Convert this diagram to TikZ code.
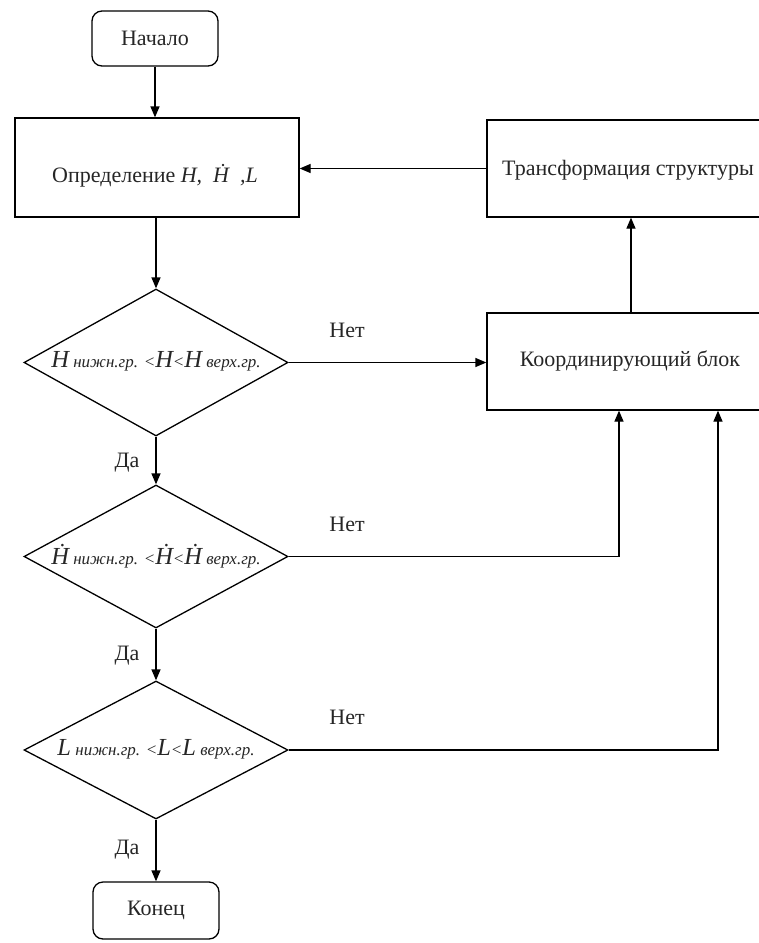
\documentclass[tikz,border=0pt]{standalone}
\usepackage{fontspec}
\setmainfont{Liberation Serif}
\usetikzlibrary{arrows.meta,shapes.geometric}
\newcommand{\bigI}[1]{{\fontsize{24.5}{26}\selectfont\itshape #1}}
\newcommand{\smI}[1]{{\fontsize{17}{19}\selectfont\itshape #1}}
\begin{document}
\begin{tikzpicture}[x=1pt,y=-1pt,
  line width=1.3pt,
  txt/.style={font=\fontsize{22}{26}\selectfont, text=black!85, inner sep=0pt},
  termbox/.style={draw, rounded corners=10pt, inner sep=0pt},
  procbox/.style={draw, inner sep=0pt},
  decbox/.style={draw, diamond, inner sep=0pt},
  arr/.style={-{Triangle[length=11pt,width=9pt]}}]
\useasboundingbox (0,0) rectangle (759,943);
% nodes
\node[termbox, minimum width=126pt, minimum height=55pt] (start) at (155,38.5) {};
\node[txt] (startt) at (start.center) {Начало};
\node[procbox, minimum width=284pt, minimum height=99pt] (def) at (157,167.5) {};
\node[txt] (deft) at (155,176) {Определение \textit{H,\ \ Ḣ\ \ ,L}};
\node[procbox, minimum width=274pt, minimum height=97pt] (trans) at (624,168.5) {};
\node[txt] (transt) at (628,170) {Трансформация структуры};
\node[procbox, minimum width=274pt, minimum height=97pt] (coord) at (624,361.5) {};
\node[txt] (coordt) at (630,361) {Координирующий блок};
\node[decbox, minimum width=264pt, minimum height=147pt] (d1) at (156,362.5) {};
\node[txt] (d1t) at (156,361) {\bigI{H}\smI{ нижн.гр. <}\bigI{H}\smI{<}\bigI{H}\smI{ верх.гр.}};
\node[decbox, minimum width=264pt, minimum height=143pt] (d2) at (156,556.5) {};
\node[txt] (d2t) at (156,556) {\bigI{Ḣ}\smI{ нижн.гр. <}\bigI{Ḣ}\smI{<}\bigI{Ḣ}\smI{ верх.гр.}};
\node[decbox, minimum width=264pt, minimum height=138pt] (d3) at (156,750) {};
\node[txt] (d3t) at (156,749) {\bigI{L}\smI{ нижн.гр. <}\bigI{L}\smI{<}\bigI{L}\smI{ верх.гр.}};
\node[termbox, minimum width=126pt, minimum height=57pt] (end) at (156,910.5) {};
\node[txt] (endt) at (end.center) {Конец};
% labels
\node[txt] (no1) at (347,330) {Нет};
\node[txt] (no2) at (347,524) {Нет};
\node[txt] (no3) at (347,717) {Нет};
\node[txt] (yes1) at (127,463) {Да};
\node[txt] (yes2) at (127,656) {Да};
\node[txt] (yes3) at (127,850) {Да};
% connectors
\draw[arr] (start.south) -- (start.south |- def.north);
\draw[arr] (def.south -| d1.north) -- (d1.north);
\draw[arr] (trans.west) -- (trans.west -| def.east);
\draw[arr] ([xshift=7pt]coord.north) -- ([xshift=7pt]trans.south);
\draw[arr] (d1.east) -- (d1.east -| coord.west);
\draw[arr] (d2.east) -| ([xshift=-5pt]coord.south);
\draw[arr] (d3.east) -| ([xshift=94pt]coord.south);
\draw[arr] (d1.south) -- (d2.north);
\draw[arr] (d2.south) -- (d3.north);
\draw[arr] (d3.south) -- (d3.south |- end.north);
\end{tikzpicture}
\end{document}
